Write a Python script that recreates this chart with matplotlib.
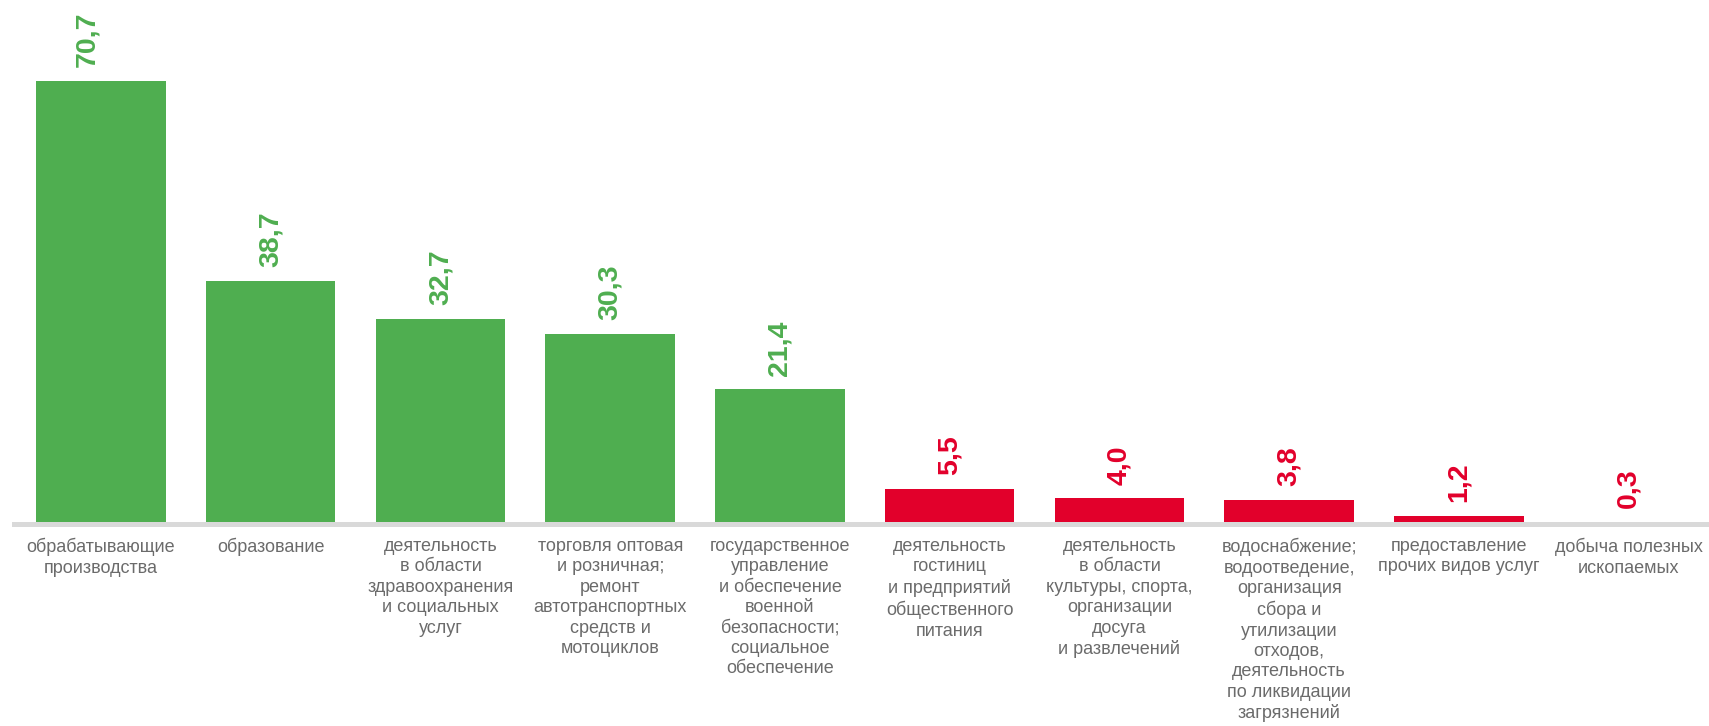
import matplotlib.pyplot as plt

# отрасли и значения
categories = [
    'обрабатывающие\nпроизводства',
    'образование',
    'деятельность\nв области\nздравоохранения\nи социальных\nуслуг',
    'торговля оптовая\nи розничная;\nремонт\nавтотранспортных\nсредств и\nмотоциклов',
    'государственное\nуправление\nи обеспечение\nвоенной\nбезопасности;\nсоциальное\nобеспечение',
    'деятельность\nгостиниц\nи предприятий\nобщественного\nпитания',
    'деятельность\nв области\nкультуры, спорта,\nорганизации\nдосуга\nи развлечений',
    'водоснабжение;\nводоотведение,\nорганизация\nсбора и\nутилизации\nотходов,\nдеятельность\nпо ликвидации\nзагрязнений',
    'предоставление\nпрочих видов услуг',
    'добыча полезных\nископаемых',
]
values = [70.7, 38.7, 32.7, 30.3, 21.4, 5.5, 4.0, 3.8, 1.2, 0.3]

GREEN = '#4fae50'
RED = '#e2002b'
colors = [GREEN if v >= 10 else RED for v in values]

plt.rcParams['font.family'] = ['Liberation Sans', 'DejaVu Sans']

fig = plt.figure(figsize=(17.09, 7.26), dpi=100)
ax = fig.add_axes([14 / 1709, 202.5 / 726, 1 - 14 / 1709, 523.5 / 726])

x = range(len(values))
bars = ax.bar(x, values, width=0.763, color=colors, zorder=2)

for i, (b, v, c) in enumerate(zip(bars, values, colors)):
    dx = -10 if i == 0 else 0
    ax.annotate(f'{v:.1f}'.replace('.', ','),
                (b.get_x() + b.get_width() / 2, v),
                xytext=(dx, 10), textcoords='offset points',
                rotation=90, ha='center', va='bottom',
                fontsize=20.5, fontweight='bold', color=c)

ax.set_xlim(-0.5125, 9.473)
ax.set_ylim(0, 83.6)

ax.tick_params(axis='x', length=0, pad=10.5, labelsize=13, labelcolor='#6b6b6b')
ax.set_xticks(list(x))
ax.set_xticklabels(categories)
for t in ax.get_xticklabels():
    t.set_linespacing(1.26)
ax.set_yticks([])

for s in ['top', 'right', 'left']:
    ax.spines[s].set_visible(False)
ax.spines['bottom'].set_color('#d9d9d9')
ax.spines['bottom'].set_linewidth(3.6)
ax.spines['bottom'].set_zorder(3)

fig.savefig('out.png', dpi=100)
